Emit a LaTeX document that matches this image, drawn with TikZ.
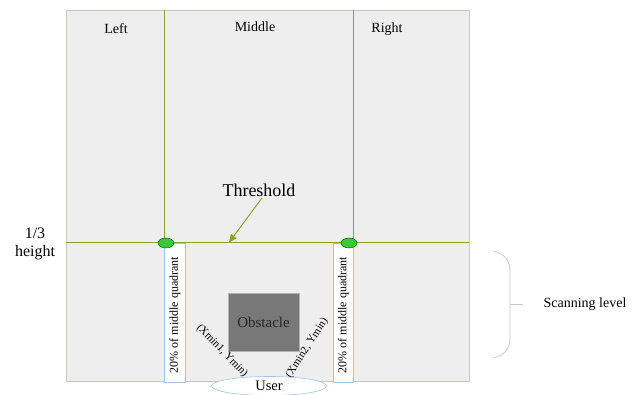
\documentclass[tikz,border=0pt]{standalone}
\usepackage{fontspec}
\setmainfont{Liberation Serif}
\usetikzlibrary{arrows.meta,shapes.geometric}
\definecolor{lineolive}{HTML}{8CA232}
\definecolor{panel}{HTML}{EEEEEE}
\definecolor{panelborder}{HTML}{C9CBB9}
\definecolor{boxblue}{HTML}{9CC3E8}
\definecolor{dotgreen}{HTML}{3CC83C}
\definecolor{bracegray}{HTML}{C8C8C8}
\begin{document}
\begin{tikzpicture}[x=1pt,y=-1pt,
  lbl/.style={font=\fontsize{14}{16}\selectfont, text=black, inner sep=0pt},
  divline/.style={draw=lineolive, line width=1pt},
  dot/.style={ellipse, draw=green!40!black, fill=dotgreen, minimum width=16pt, minimum height=10pt, inner sep=0pt, line width=0.5pt},
  strip/.style={draw=boxblue, fill=white, line width=0.7pt},
  stripText/.style={lbl, rotate=90, font=\fontsize{12}{14}\selectfont},
]
\useasboundingbox (0,0) rectangle (641,395);
% panel
\fill[panel] (66,10) rectangle (469,381);
\draw[panelborder, line width=0.8pt] (66,10) rectangle (469,381);
% dividers
\coordinate (vl) at (164,10);
\coordinate (vr) at (353,10);
\coordinate (hl) at (66,243);
\coordinate (hr) at (469,243);
\draw[divline] (vl) -- (164,243);
\draw[divline] (vr) -- (353,243);
\draw[divline] (hl) -- (hr);
% strips
\draw[strip] (164,243) rectangle (185,382);
\draw[strip] (333,243) rectangle (353,382);
\node[stripText] (s1) at (175,315) {20\% of middle quadrant};
\node[stripText] (s2) at (343.5,315) {20\% of middle quadrant};
% dots
\node[dot] (d1) at (166,243) {};
\node[dot] (d2) at (349,243) {};
% top labels
\node[lbl] (left) at (116,29) {Left};
\node[lbl] (mid) at (255,27) {Middle};
\node[lbl] (right) at (387,29) {Right};
% threshold
\node[lbl, font=\fontsize{18}{20}\selectfont] (thr) at (259,190) {Threshold};
\coordinate (thrpt) at (229,242.5);
\draw[lineolive, line width=1pt, -{Triangle[length=8pt,width=7pt]}] (262,198) -- (thrpt);
% 1/3 height
\node[lbl, align=center, font=\fontsize{16}{18}\selectfont] (third) at (35,244) {1/3\\height};
% obstacle
\node[draw=gray!60, fill=black!53, minimum width=71pt, minimum height=58pt, inner sep=0pt, font=\fontsize{15}{17}\selectfont, text=black!85] (obs) at (263.5,322) {Obstacle};
% coordinate labels
\node[lbl, rotate=-46, font=\fontsize{11}{12}\selectfont] (c1) at (222,351) {(Xmin1, Ymin)};
\node[lbl, rotate=57, font=\fontsize{11}{12}\selectfont] (c2) at (307,348) {(Xmin2, Ymin)};
% user
\node[ellipse, draw=boxblue, fill=white, minimum width=115pt, minimum height=19pt, inner sep=0pt, line width=0.6pt] (user) at (269,386) {};
\node[lbl, font=\fontsize{14.5}{16}\selectfont] (usert) at (user.center) {User};
% brace
\coordinate (btop) at (493,251);
\coordinate (bbot) at (493,358);
\coordinate (btick) at (523,304);
\draw[bracegray, line width=0.8pt] (btop) .. controls (505,254) and (510,260) .. (510,272)
  -- (510,337) .. controls (510,349) and (505,355) .. (bbot);
\draw[bracegray, line width=0.8pt] (510,304) -- (btick);
\node[lbl] (scan) at (585,304) {Scanning level};
\end{tikzpicture}
\end{document}
